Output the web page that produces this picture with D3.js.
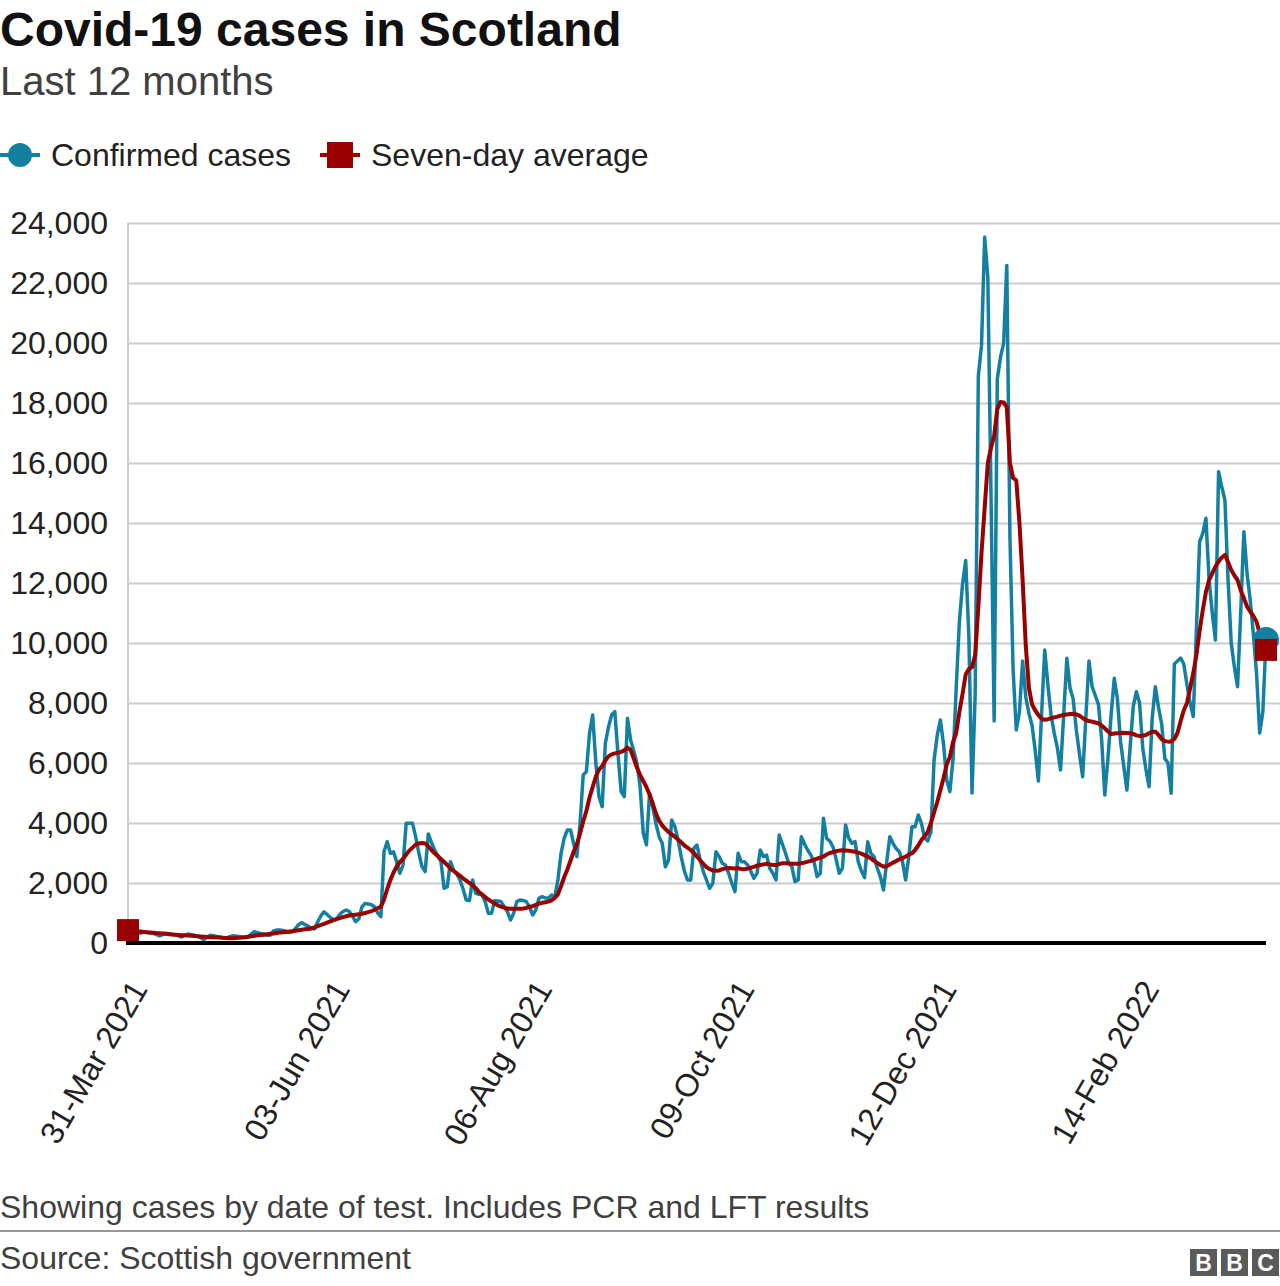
<!DOCTYPE html>
<html><head><meta charset="utf-8">
<script src="https://cdn.jsdelivr.net/npm/d3@7"></script>
<style>
body{margin:0;background:#fff;}
svg text{font-family:"Liberation Sans", Arial, Helvetica, sans-serif;}
</style></head><body>
<svg id="chart" width="1280" height="1286"></svg>
<script>
// Daily confirmed cases (one value per day, 31-Mar 2021 onwards)
const confirmedCases = [
420,380,350,300,330,380,350,340,320,280,
240,280,320,300,290,270,240,200,250,300,
280,260,230,180,110,200,260,240,220,200,
170,160,200,240,230,220,200,180,190,300,
380,340,320,300,260,260,400,430,430,420,
390,350,380,480,620,680,610,560,500,470,
700,900,1040,950,850,770,800,950,1050,1100,
1050,900,710,800,1200,1320,1300,1280,1200,1000,
880,3050,3380,2990,3040,2700,2320,2600,3990,3990,
3990,3545,3000,2545,2380,3634,3350,3100,2900,2712,
1823,1878,2712,2434,2300,2100,1800,1434,1412,2100,
1656,1620,1600,1378,989,989,1412,1400,1378,1212,
1045,767,989,1378,1434,1420,1378,1200,934,1100,
1490,1545,1500,1490,1600,1550,2100,2990,3500,3767,
3767,3300,2880,3990,5600,5712,6990,7600,6000,4878,
4545,6656,7200,7600,7712,6300,5050,4880,7490,6770,
6400,5990,5210,3660,3270,4990,4545,3990,3545,3323,
2545,2767,4100,3878,3434,2880,2400,2100,2100,3156,
3267,2767,2378,2100,1823,1990,3045,2880,2656,2600,
2323,2000,1712,2990,2712,2712,2600,2400,2156,2323,
3100,2878,2934,2490,2323,2100,3600,3300,2990,2656,
2545,2045,2100,3545,3300,3100,2934,2712,2212,2323,
4156,3490,3400,3212,2800,2323,2490,3934,3500,3323,
3378,2712,2400,2180,3378,2990,2878,2500,2212,1767,
2700,3545,3323,3150,3045,2712,2100,2878,3878,3878,
4267,3990,3500,3400,3700,6100,6926,7434,6611,5430,
5045,6139,8500,10700,11962,12750,10231,5000,8300,18900,
19911,23531,22193,15000,7398,18800,19518,19990,22587,13500,
9100,7100,7700,9400,8200,7656,7250,6400,5400,7600,
9767,8600,7600,7000,6500,5767,7600,9490,8500,8130,
7100,6300,5545,7500,9400,8545,8250,7950,6800,4934,
6150,7600,8822,8130,6700,5900,5100,6500,7878,8378,
8000,6500,5800,5212,7500,8545,7850,7300,6150,6000,
4990,9300,9400,9500,9300,8600,8000,7550,10500,13378,
13656,14156,12100,11000,10100,15712,15200,14767,12100,9990,
9200,8545,11000,13711,12323,11434,10300,9000,7000,7700,10100
];

// Seven-day average (one value per day)
const sevenDayAverage = [
430,415,400,390,380,370,360,350,340,330,
323,315,305,295,285,278,270,262,255,248,
240,232,225,218,210,200,195,190,185,180,
172,165,160,160,165,172,180,195,210,225,
240,255,265,275,290,305,320,335,350,360,
370,380,395,410,425,440,455,470,485,520,
560,600,640,680,720,760,800,830,860,890,
915,935,945,955,975,1000,1030,1060,1110,1160,
1212,1450,1800,2100,2350,2550,2700,2800,2950,3080,
3180,3280,3320,3330,3320,3220,3100,2990,2900,2800,
2700,2600,2480,2400,2320,2240,2156,2080,2000,1930,
1830,1700,1620,1530,1450,1380,1320,1260,1210,1180,
1150,1145,1140,1140,1145,1150,1170,1200,1230,1270,
1310,1340,1360,1380,1420,1500,1620,1900,2200,2450,
2750,3050,3300,3650,4050,4400,4850,5200,5550,5780,
5900,6080,6220,6290,6320,6340,6370,6420,6520,6430,
6150,5850,5600,5400,5200,4950,4650,4320,4080,3920,
3800,3700,3620,3540,3450,3360,3250,3180,3100,3000,
2880,2760,2640,2530,2460,2420,2410,2420,2460,2490,
2500,2490,2480,2490,2470,2460,2480,2510,2540,2580,
2600,2620,2640,2620,2600,2600,2630,2660,2660,2650,
2640,2640,2640,2660,2680,2710,2740,2770,2810,2850,
2880,2950,3000,3030,3060,3080,3090,3085,3078,3060,
3040,3012,2980,2930,2880,2820,2740,2670,2600,2550,
2560,2620,2680,2730,2790,2830,2880,2940,2990,3100,
3250,3430,3560,3700,4000,4350,4700,5100,5500,5950,
6200,6700,7000,7700,8300,8950,9130,9200,9600,11200,
13000,14500,16000,16500,16900,17800,18030,18020,17860,16000,
15500,15420,14008,12120,9916,8500,7950,7750,7600,7480,
7440,7460,7490,7520,7545,7580,7600,7620,7634,7640,
7620,7580,7500,7434,7400,7378,7350,7323,7250,7156,
7050,6967,6980,6990,7000,7012,7000,6990,6970,6920,
6900,6910,6934,6990,7045,7045,6934,6790,6730,6712,
6720,6800,7000,7400,7760,8000,8500,9000,9600,10400,
11100,11700,12100,12323,12550,12712,12850,12934,12700,12434,
12250,12100,11750,11500,11212,11050,10900,10712,10323,9878,9770
];

const xTickIndex = [0, 64, 128, 192, 256, 320];
const xTickLabels = ["31-Mar 2021", "03-Jun 2021", "06-Aug 2021", "09-Oct 2021", "12-Dec 2021", "14-Feb 2022"];
const yTickValues = [0, 2000, 4000, 6000, 8000, 10000, 12000, 14000, 16000, 18000, 20000, 22000, 24000];
const seriesNames = ["Confirmed cases", "Seven-day average"];
const seriesColors = ["#1380A1", "#990000"];

const svg = d3.select("#chart");
const W = 1280;
const x = d3.scaleLinear().domain([0, confirmedCases.length - 1]).range([128, 1266]);
const y = d3.scaleLinear().domain([0, 24000]).range([943, 223]);

// Title & subtitle
svg.append("text").attr("x", 0).attr("y", 46).attr("font-size", 48).attr("font-weight", "bold")
  .attr("fill", "#111").text("Covid-19 cases in Scotland");
svg.append("text").attr("x", 0).attr("y", 95).attr("font-size", 40)
  .attr("fill", "#404040").text("Last 12 months");

// Legend
const leg = svg.append("g").attr("transform", "translate(0,155)");
leg.append("line").attr("x1", 0).attr("x2", 40).attr("y1", 0).attr("y2", 0)
  .attr("stroke", seriesColors[0]).attr("stroke-width", 4);
leg.append("circle").attr("cx", 20).attr("cy", 0).attr("r", 12).attr("fill", seriesColors[0]);
leg.append("text").attr("x", 51).attr("y", 0).attr("dy", "0.35em").attr("font-size", 32)
  .attr("fill", "#222").text(seriesNames[0]);
leg.append("line").attr("x1", 320).attr("x2", 360).attr("y1", 0).attr("y2", 0)
  .attr("stroke", seriesColors[1]).attr("stroke-width", 4);
leg.append("rect").attr("x", 327).attr("y", -13).attr("width", 26).attr("height", 26).attr("fill", seriesColors[1]);
leg.append("text").attr("x", 371).attr("y", 0).attr("dy", "0.35em").attr("font-size", 32)
  .attr("fill", "#222").text(seriesNames[1]);

// Y axis with gridlines
const yAxis = svg.append("g").attr("transform", "translate(128,0)")
  .call(d3.axisLeft(y).tickValues(yTickValues).tickSize(-(W - 128)).tickPadding(20)
    .tickFormat(d3.format(",")));
yAxis.select(".domain").remove();
yAxis.selectAll(".tick line").attr("stroke", "#cccccc").attr("stroke-width", 2);
yAxis.selectAll(".tick text").attr("font-size", 32).attr("fill", "#222")
  .attr("font-family", "Liberation Sans, Arial, sans-serif");
yAxis.selectAll(".tick").filter(d => d === 0).select("line").attr("stroke", "none");

// left axis line
svg.append("line").attr("x1", 128).attr("x2", 128).attr("y1", y(24000)).attr("y2", y(0))
  .attr("stroke", "#cccccc").attr("stroke-width", 2);

// X axis
const xAxis = svg.append("g").attr("transform", "translate(0,943)")
  .call(d3.axisBottom(x).tickValues(xTickIndex).tickSize(0)
    .tickFormat((d, i) => xTickLabels[i]));
xAxis.select(".domain").remove();
xAxis.selectAll(".tick text").attr("font-size", 32).attr("fill", "#222")
  .attr("font-family", "Liberation Sans, Arial, sans-serif")
  .attr("text-anchor", "end").attr("x", 0).attr("y", 0).attr("dy", 0)
  .attr("transform", "translate(20,46) rotate(-60)");

// Lines
const line = d3.line().x((d, i) => x(i)).y(d => y(d));
svg.append("path").datum(confirmedCases).attr("d", line).attr("fill", "none")
  .attr("stroke", seriesColors[0]).attr("stroke-width", 3.5).attr("stroke-linejoin", "round");
svg.append("path").datum(sevenDayAverage).attr("d", line).attr("fill", "none")
  .attr("stroke", seriesColors[1]).attr("stroke-width", 4).attr("stroke-linejoin", "round");

// Baseline
svg.append("line").attr("x1", 126).attr("x2", 1266).attr("y1", y(0)).attr("y2", y(0))
  .attr("stroke", "#000").attr("stroke-width", 4);

// End markers
const lastI = confirmedCases.length - 1;
svg.append("circle").attr("cx", x(lastI)).attr("cy", y(confirmedCases[lastI])).attr("r", 13)
  .attr("fill", seriesColors[0]);
[0, lastI].forEach(i => {
  svg.append("rect").attr("x", x(i) - 11).attr("y", y(sevenDayAverage[i]) - 11)
    .attr("width", 22).attr("height", 22).attr("fill", seriesColors[1]);
});

// Footer
svg.append("text").attr("x", 0).attr("y", 1218).attr("font-size", 32).attr("fill", "#404040")
  .text("Showing cases by date of test. Includes PCR and LFT results");
svg.append("line").attr("x1", 0).attr("x2", W).attr("y1", 1231).attr("y2", 1231)
  .attr("stroke", "#999").attr("stroke-width", 2);
svg.append("text").attr("x", 0).attr("y", 1269).attr("font-size", 32).attr("fill", "#404040")
  .text("Source: Scottish government");
const logo = svg.append("g").attr("transform", "translate(1190,1249)");
["B", "B", "C"].forEach((c, i) => {
  logo.append("rect").attr("x", i * 31).attr("y", 0).attr("width", 27).attr("height", 27).attr("fill", "#5a5a5a");
  logo.append("text").attr("x", i * 31 + 13.5).attr("y", 22).attr("text-anchor", "middle")
    .attr("font-size", 23).attr("font-weight", "bold").attr("fill", "#fff").text(c);
});
</script>
</body></html>
